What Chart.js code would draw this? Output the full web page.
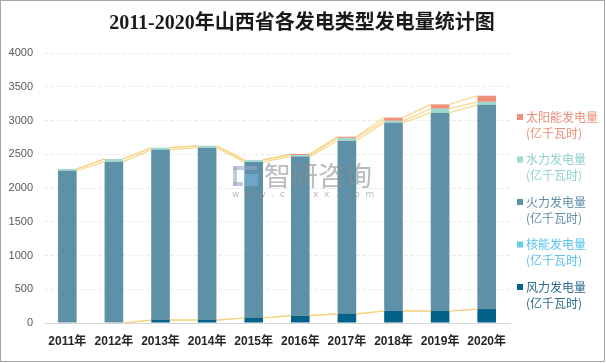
<!DOCTYPE html>
<html>
<head>
<meta charset="utf-8">
<script src="https://cdn.jsdelivr.net/npm/chart.js@4.4.1/dist/chart.umd.min.js"></script>
<style>
  html, body { margin: 0; padding: 0; background: #ffffff; }
  #wrap { position: relative; width: 606px; height: 363px; }
  canvas { display: block; }
</style>
</head>
<body>
<div id="wrap"><canvas id="c" width="606" height="363"></canvas></div>
<script>
// ---- data (亿千瓦时) ----
const categories = ['2011年','2012年','2013年','2014年','2015年','2016年','2017年','2018年','2019年','2020年'];
const windValues    = [0, 0, 44, 44, 74, 108, 135, 178, 178, 207];
const nuclearValues = [0, 0, 0, 0, 0, 0, 0, 0, 0, 0];
const thermalValues = [2255, 2390, 2521, 2554, 2313, 2357, 2565, 2787, 2938, 3025];
const hydroValues   = [27, 39, 32, 28, 29, 24, 42, 30, 59, 44];
const solarValues   = [0, 0, 0, 0, 0, 16, 18, 48, 64, 91];
const yTicks = [0, 500, 1000, 1500, 2000, 2500, 3000, 3500, 4000];

const titleText = '2011-2020年山西省各发电类型发电量统计图';
const unitText = '(亿千瓦时)';

const colors = {
  wind: '#03618a', nuclear: '#6acbf0', thermal: '#5e90a8', hydro: '#a0d8d2', solar: '#ef917a'
};
const textColors = {
  wind: '#2d6b8d', nuclear: '#55c3ee', thermal: '#5e8fa7', hydro: '#8fd1cb', solar: '#ee8e76'
};

const series = [
  { key: 'wind',    label: '风力发电量',   data: windValues },
  { key: 'nuclear', label: '核能发电量',   data: nuclearValues },
  { key: 'thermal', label: '火力发电量',   data: thermalValues },
  { key: 'hydro',   label: '水力发电量',   data: hydroValues },
  { key: 'solar',   label: '太阳能发电量', data: solarValues }
];

const W = 606, H = 363;
const AREA = { left: 44, right: 510, top: 53, bottom: 323 };

const extrasPlugin = {
  id: 'extras',
  beforeDraw(chart) {
    const ctx = chart.ctx;
    ctx.save();
    ctx.fillStyle = '#ffffff';
    ctx.fillRect(0, 0, W, H);
    ctx.restore();
  },
  afterDatasetsDraw(chart) {
    const ctx = chart.ctx;
    const yScale = chart.scales.y;
    // series lines connecting the tops of each stacked segment
    const cum = categories.map(() => 0);
    ctx.save();
    ctx.strokeStyle = 'rgba(246, 208, 120, 0.85)';
    ctx.lineWidth = 1.2;
    series.forEach((s, si) => {
      const tops = s.data.map((v, i) => (cum[i] += v));
      const meta = chart.getDatasetMeta(si);
      for (let i = 0; i < categories.length - 1; i++) {
        if (tops[i] === 0 && tops[i + 1] === 0) continue;
        const a = meta.data[i], b = meta.data[i + 1];
        const x1 = a.x + a.width / 2, x2 = b.x - b.width / 2;
        const y1 = yScale.getPixelForValue(tops[i]);
        const y2 = yScale.getPixelForValue(tops[i + 1]);
        ctx.beginPath();
        ctx.moveTo(x1, y1);
        ctx.lineTo(x2, y2);
        ctx.stroke();
      }
    });
    ctx.restore();
  },
  afterDraw(chart) {
    const ctx = chart.ctx;
    ctx.save();
    // title
    ctx.fillStyle = '#1a1a1a';
    ctx.font = 'bold 20px "Liberation Serif", "Noto Sans CJK SC", serif';
    ctx.textAlign = 'center';
    ctx.textBaseline = 'middle';
    ctx.fillText(titleText, 302, 24);

    // watermark
    ctx.globalAlpha = 0.6;
    ctx.fillStyle = '#8c8c8c';
    ctx.font = '27px "Noto Sans CJK SC", sans-serif';
    ctx.textAlign = 'left';
    ctx.fillText('智研咨询', 264, 176);
    ctx.font = '9px "DejaVu Sans", sans-serif';
    ctx.fillText('w  w  w  .  c  h  y  x  x  .  c  o  m', 232, 195);
    ctx.fillStyle = '#98a8c8';
    ctx.fillRect(233, 166, 24, 4);
    ctx.fillRect(233, 166, 4, 20);
    ctx.fillRect(233, 182, 10, 4);
    ctx.fillStyle = '#7fb4dc';
    ctx.fillRect(244, 174, 14, 12);
    ctx.globalAlpha = 1;

    // legend (top to bottom: reversed stacking order)
    const legendOrder = series.slice().reverse();
    ctx.textBaseline = 'middle';
    ctx.font = '12px "Noto Sans CJK SC", sans-serif';
    legendOrder.forEach((s, k) => {
      const y = 117 + k * 42.5;
      ctx.fillStyle = colors[s.key];
      ctx.fillRect(517, y - 3, 6, 6);
      ctx.fillStyle = textColors[s.key];
      ctx.fillText(s.label, 526, y);
      ctx.fillText(unitText, 526, y + 16);
    });

    // outer border
    ctx.strokeStyle = '#a6a6a6';
    ctx.lineWidth = 1;
    ctx.strokeRect(0.5, 0.5, W - 2, H - 2);
    ctx.restore();
  }
};

new Chart(document.getElementById('c'), {
  type: 'bar',
  data: {
    labels: categories,
    datasets: series.map(s => ({
      label: s.label,
      data: s.data,
      backgroundColor: colors[s.key],
      borderWidth: 0,
      barPercentage: 0.4,
      categoryPercentage: 1.0,
      stack: 'total'
    }))
  },
  options: {
    responsive: false,
    animation: false,
    devicePixelRatio: 1,
    layout: { padding: { left: 0, right: W - AREA.right, top: AREA.top, bottom: 0 } },
    plugins: {
      legend: { display: false },
      title: { display: false },
      tooltip: { enabled: false }
    },
    scales: {
      x: {
        stacked: true,
        grid: { display: false, drawTicks: false },
        border: { display: true, color: '#d9d9d9', width: 1 },
        ticks: {
          color: '#262626',
          font: { family: '"Liberation Sans", "Noto Sans CJK SC", sans-serif', size: 12, weight: 'bold' },
          padding: 11,
          maxRotation: 0,
          autoSkip: false
        },
        afterFit(scale) { scale.height = H - AREA.bottom; }
      },
      y: {
        stacked: true,
        min: 0,
        max: 4000,
        afterBuildTicks(scale) { scale.ticks = yTicks.map(v => ({ value: v })); },
        grid: { color: '#ececec', drawTicks: false, lineWidth: 1 },
        border: { display: false, dash: [4, 2] },
        ticks: {
          color: '#595959',
          font: { family: '"Liberation Sans", sans-serif', size: 11 },
          padding: 11,
          callback: v => String(v)
        },
        afterFit(scale) { scale.width = AREA.left; }
      }
    }
  },
  plugins: [extrasPlugin]
});
</script>
</body>
</html>
